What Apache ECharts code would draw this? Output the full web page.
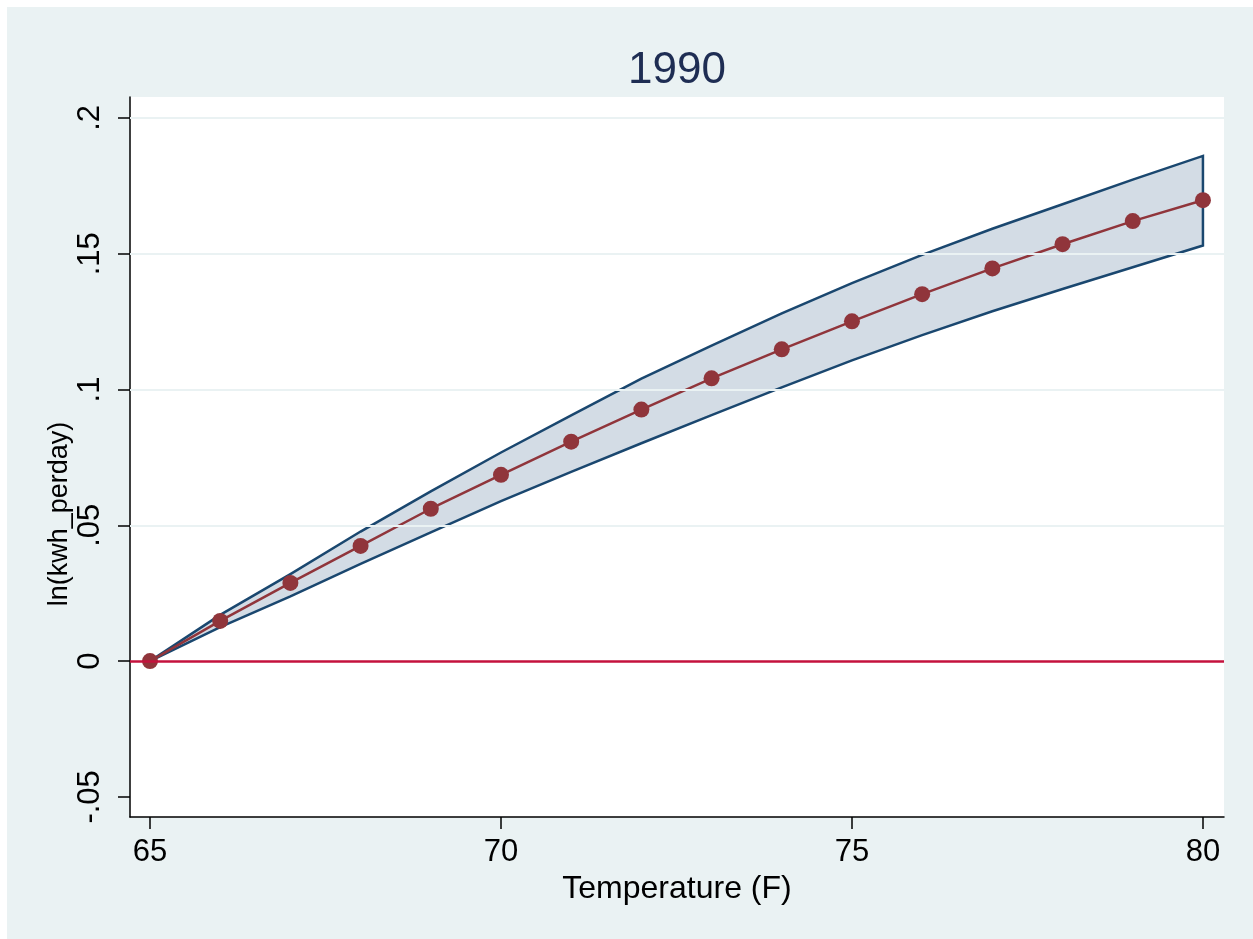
<!DOCTYPE html>
<html>
<head>
<meta charset="utf-8">
<title>1990</title>
<script src="https://cdn.jsdelivr.net/npm/echarts@6/dist/echarts.min.js"></script>
<style>
  html, body { margin: 0; padding: 0; background: #ffffff; }
  #chart { position: absolute; left: 7px; top: 7px; width: 1246px; height: 932px; }
</style>
</head>
<body>
<div id="chart"></div>
<script>
// Temperature bins (F)
const temps = [65, 66, 67, 68, 69, 70, 71, 72, 73, 74, 75, 76, 77, 78, 79, 80];
// Point estimates of ln(kwh_perday) relative to 65F
const estimate = [0, 0.0148, 0.0288, 0.0424, 0.0561, 0.0686, 0.0808, 0.0926, 0.1041, 0.1148, 0.1251, 0.1351, 0.1446, 0.1535, 0.1620, 0.1697];
// Confidence interval bounds
const ciHigh = [0, 0.0170, 0.0320, 0.0477, 0.0625, 0.0768, 0.0905, 0.1040, 0.1162, 0.1280, 0.1392, 0.1496, 0.1592, 0.1682, 0.1773, 0.1860];
const ciLow  = [0, 0.0125, 0.0238, 0.0358, 0.0474, 0.0589, 0.0697, 0.0802, 0.0906, 0.1008, 0.1107, 0.1200, 0.1288, 0.1370, 0.1450, 0.1530];
// Axis ticks
const xTicks = [65, 70, 75, 80];
const yTicks = [-0.05, 0, 0.05, 0.1, 0.15, 0.2];
const gridValues = [0.05, 0.1, 0.15, 0.2];

const FONT = 'Liberation Sans, Arial, Helvetica, sans-serif';

function stataNum(v) {
  if (v === 0) return '0';
  const s = String(Math.abs(v)).replace(/^0/, '');
  return (v < 0 ? '-' : '') + s;
}

const chart = echarts.init(document.getElementById('chart'), null, { renderer: 'canvas' });

const option = {
  animation: false,
  backgroundColor: '#eaf2f3',
  graphic: [
    {
      type: 'text', x: 670, y: 42,
      style: { text: '1990', font: '44px ' + FONT, fill: '#1e2d53', textAlign: 'center', textVerticalAlign: 'top' }
    },
    {
      // y axis title
      type: 'text', x: 53, y: 507, rotation: Math.PI / 2,
      style: { text: 'ln(kwh_perday)', font: '27px ' + FONT, fill: '#000', textAlign: 'center', textVerticalAlign: 'middle' }
    }
  ],
  grid: {
    left: 123, top: 90, width: 1094, height: 720,
    show: true, backgroundColor: '#ffffff', borderWidth: 0
  },
  xAxis: {
    type: 'value', min: 64.715, max: 80.30,
    name: 'Temperature (F)', nameLocation: 'middle', nameGap: 43,
    nameTextStyle: { fontFamily: FONT, fontSize: 32, color: '#000' },
    axisLine: { show: true, onZero: false, lineStyle: { color: '#000', width: 1.5 } },
    axisTick: { show: true, length: 12, lineStyle: { color: '#000', width: 1.5 }, customValues: xTicks },
    axisLabel: { fontFamily: FONT, fontSize: 31, color: '#000', margin: 20, customValues: xTicks, formatter: v => String(v) },
    splitLine: { show: false }
  },
  yAxis: {
    type: 'value', min: -0.0574, max: 0.2077,
    axisLine: { show: true, onZero: false, lineStyle: { color: '#000', width: 1.5 } },
    axisTick: { show: true, length: 12, lineStyle: { color: '#000', width: 1.5 }, customValues: yTicks },
    axisLabel: { fontFamily: FONT, fontSize: 31, color: '#000', margin: 24, rotate: 90, customValues: yTicks, formatter: stataNum },
    splitLine: { show: false }
  },
  series: [
    {
      // horizontal grid lines
      name: 'grid', type: 'line', data: [], z: 1, silent: true,
      markLine: {
        silent: true, symbol: 'none', label: { show: false },
        lineStyle: { color: '#eaf2f3', width: 2, type: 'solid' },
        data: gridValues.map(v => ({ yAxis: v }))
      }
    },
    {
      // confidence band as a closed polygon
      name: 'band', type: 'custom', z: 2, silent: true,
      data: [[temps[0], 0]],
      renderItem: function (params, api) {
        const pts = [];
        for (let i = 0; i < temps.length; i++) pts.push(api.coord([temps[i], ciHigh[i]]));
        for (let i = temps.length - 1; i >= 0; i--) pts.push(api.coord([temps[i], ciLow[i]]));
        return {
          type: 'polygon',
          shape: { points: pts },
          style: { fill: '#d3dce5', stroke: '#1a476f', lineWidth: 2.5, lineJoin: 'miter' }
        };
      }
    },
    {
      // zero reference line
      name: 'zero', type: 'line', data: [], z: 3, silent: true,
      markLine: {
        silent: true, symbol: 'none', label: { show: false },
        lineStyle: { color: '#c4123d', width: 2.5, type: 'solid' },
        data: [{ yAxis: 0 }]
      }
    },
    {
      name: 'estimate', type: 'line', z: 4,
      data: temps.map((t, i) => [t, estimate[i]]),
      symbol: 'circle', symbolSize: 16, showSymbol: true,
      lineStyle: { color: '#90353b', width: 2.5 },
      itemStyle: { color: '#90353b' }
    }
  ]
};

chart.setOption(option);
</script>
</body>
</html>
